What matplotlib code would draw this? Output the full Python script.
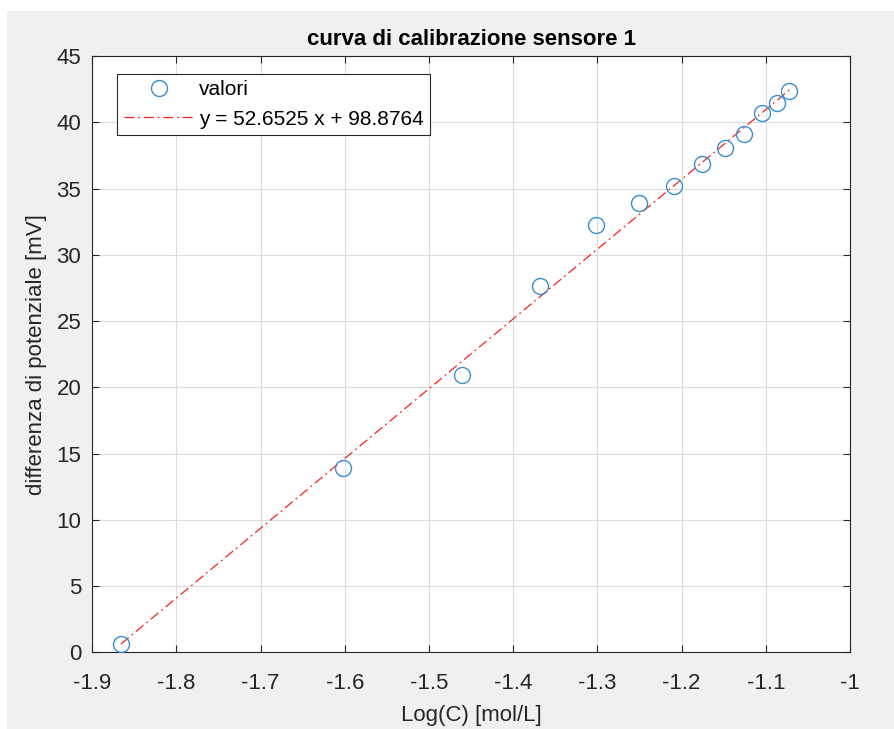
import numpy as np
import matplotlib.pyplot as plt
from matplotlib.patches import Rectangle

plt.rcParams['font.family'] = ['Liberation Sans', 'DejaVu Sans']

# dati
log_c = [-1.866, -1.6026, -1.461, -1.368, -1.302, -1.2503, -1.2091,
         -1.1762, -1.1482, -1.1257, -1.1046, -1.0872, -1.0722]
delta_v = [0.6, 13.89, 20.93, 27.65, 32.25, 33.93, 35.22,
           36.83, 38.04, 39.09, 40.68, 41.43, 42.38]

# retta di calibrazione (dalla legenda)
slope = 52.6525
intercept = 98.8764

xticks = [-1.9, -1.8, -1.7, -1.6, -1.5, -1.4, -1.3, -1.2, -1.1, -1]
yticks = [0, 5, 10, 15, 20, 25, 30, 35, 40, 45]

txt = '#262626'
fig = plt.figure(figsize=(8.94, 7.29), dpi=100, facecolor='white')
fig.patches.append(Rectangle((7/894, 0), 1, 1 - 11/729, transform=fig.transFigure,
                             facecolor='#f0f0f0', edgecolor='none', zorder=-10))
ax = fig.add_axes([92.3/894, 1 - 652.3/729, (850 - 92.3)/894, (652.3 - 56)/729])
ax.set_facecolor('white')

xfit = np.array([min(log_c), max(log_c)])
ax.plot(log_c, delta_v, 'o', linestyle='none', markersize=11.5, markerfacecolor='none',
        markeredgecolor='#3a8dd0', markeredgewidth=1.0, label='valori', zorder=3)
ax.plot(xfit, slope*xfit + intercept, color='#ff2020', linestyle=(0, (8, 3, 1.5, 3)),
        linewidth=0.9, label='y = %.4f x + %.4f' % (slope, intercept), zorder=2)

ax.set_xlim(-1.9, -1)
ax.set_ylim(0, 45)
ax.set_xticks(xticks)
ax.set_xticklabels([('%g' % t) for t in xticks])
ax.set_yticks(yticks)
ax.grid(True, color='#dcdcdc', linewidth=0.8)
ax.set_axisbelow(True)
ax.tick_params(direction='in', top=True, right=True, labelsize=16, colors=txt,
               length=5, width=0.8, pad=8)
ax.tick_params(axis='x', pad=15)
for s in ax.spines.values():
    s.set_color(txt)
    s.set_linewidth(0.8)

ax.set_title('curva di calibrazione sensore 1', fontsize=16, fontweight='bold',
             color='black', pad=8)
ax.set_xlabel('Log(C) [mol/L]', fontsize=16, color=txt, labelpad=8)
ax.set_ylabel('differenza di potenziale [mV]', fontsize=16, color=txt, labelpad=7)

leg = ax.legend(loc='upper left', bbox_to_anchor=(0.033, 0.970), fontsize=15,
                fancybox=False, framealpha=1, edgecolor=txt, handlelength=3.4,
                handletextpad=0.2, borderpad=0.3, labelspacing=0.5,
                borderaxespad=0)
leg.get_frame().set_linewidth(0.8)

plt.savefig('out.png', dpi=100, facecolor=fig.get_facecolor())
